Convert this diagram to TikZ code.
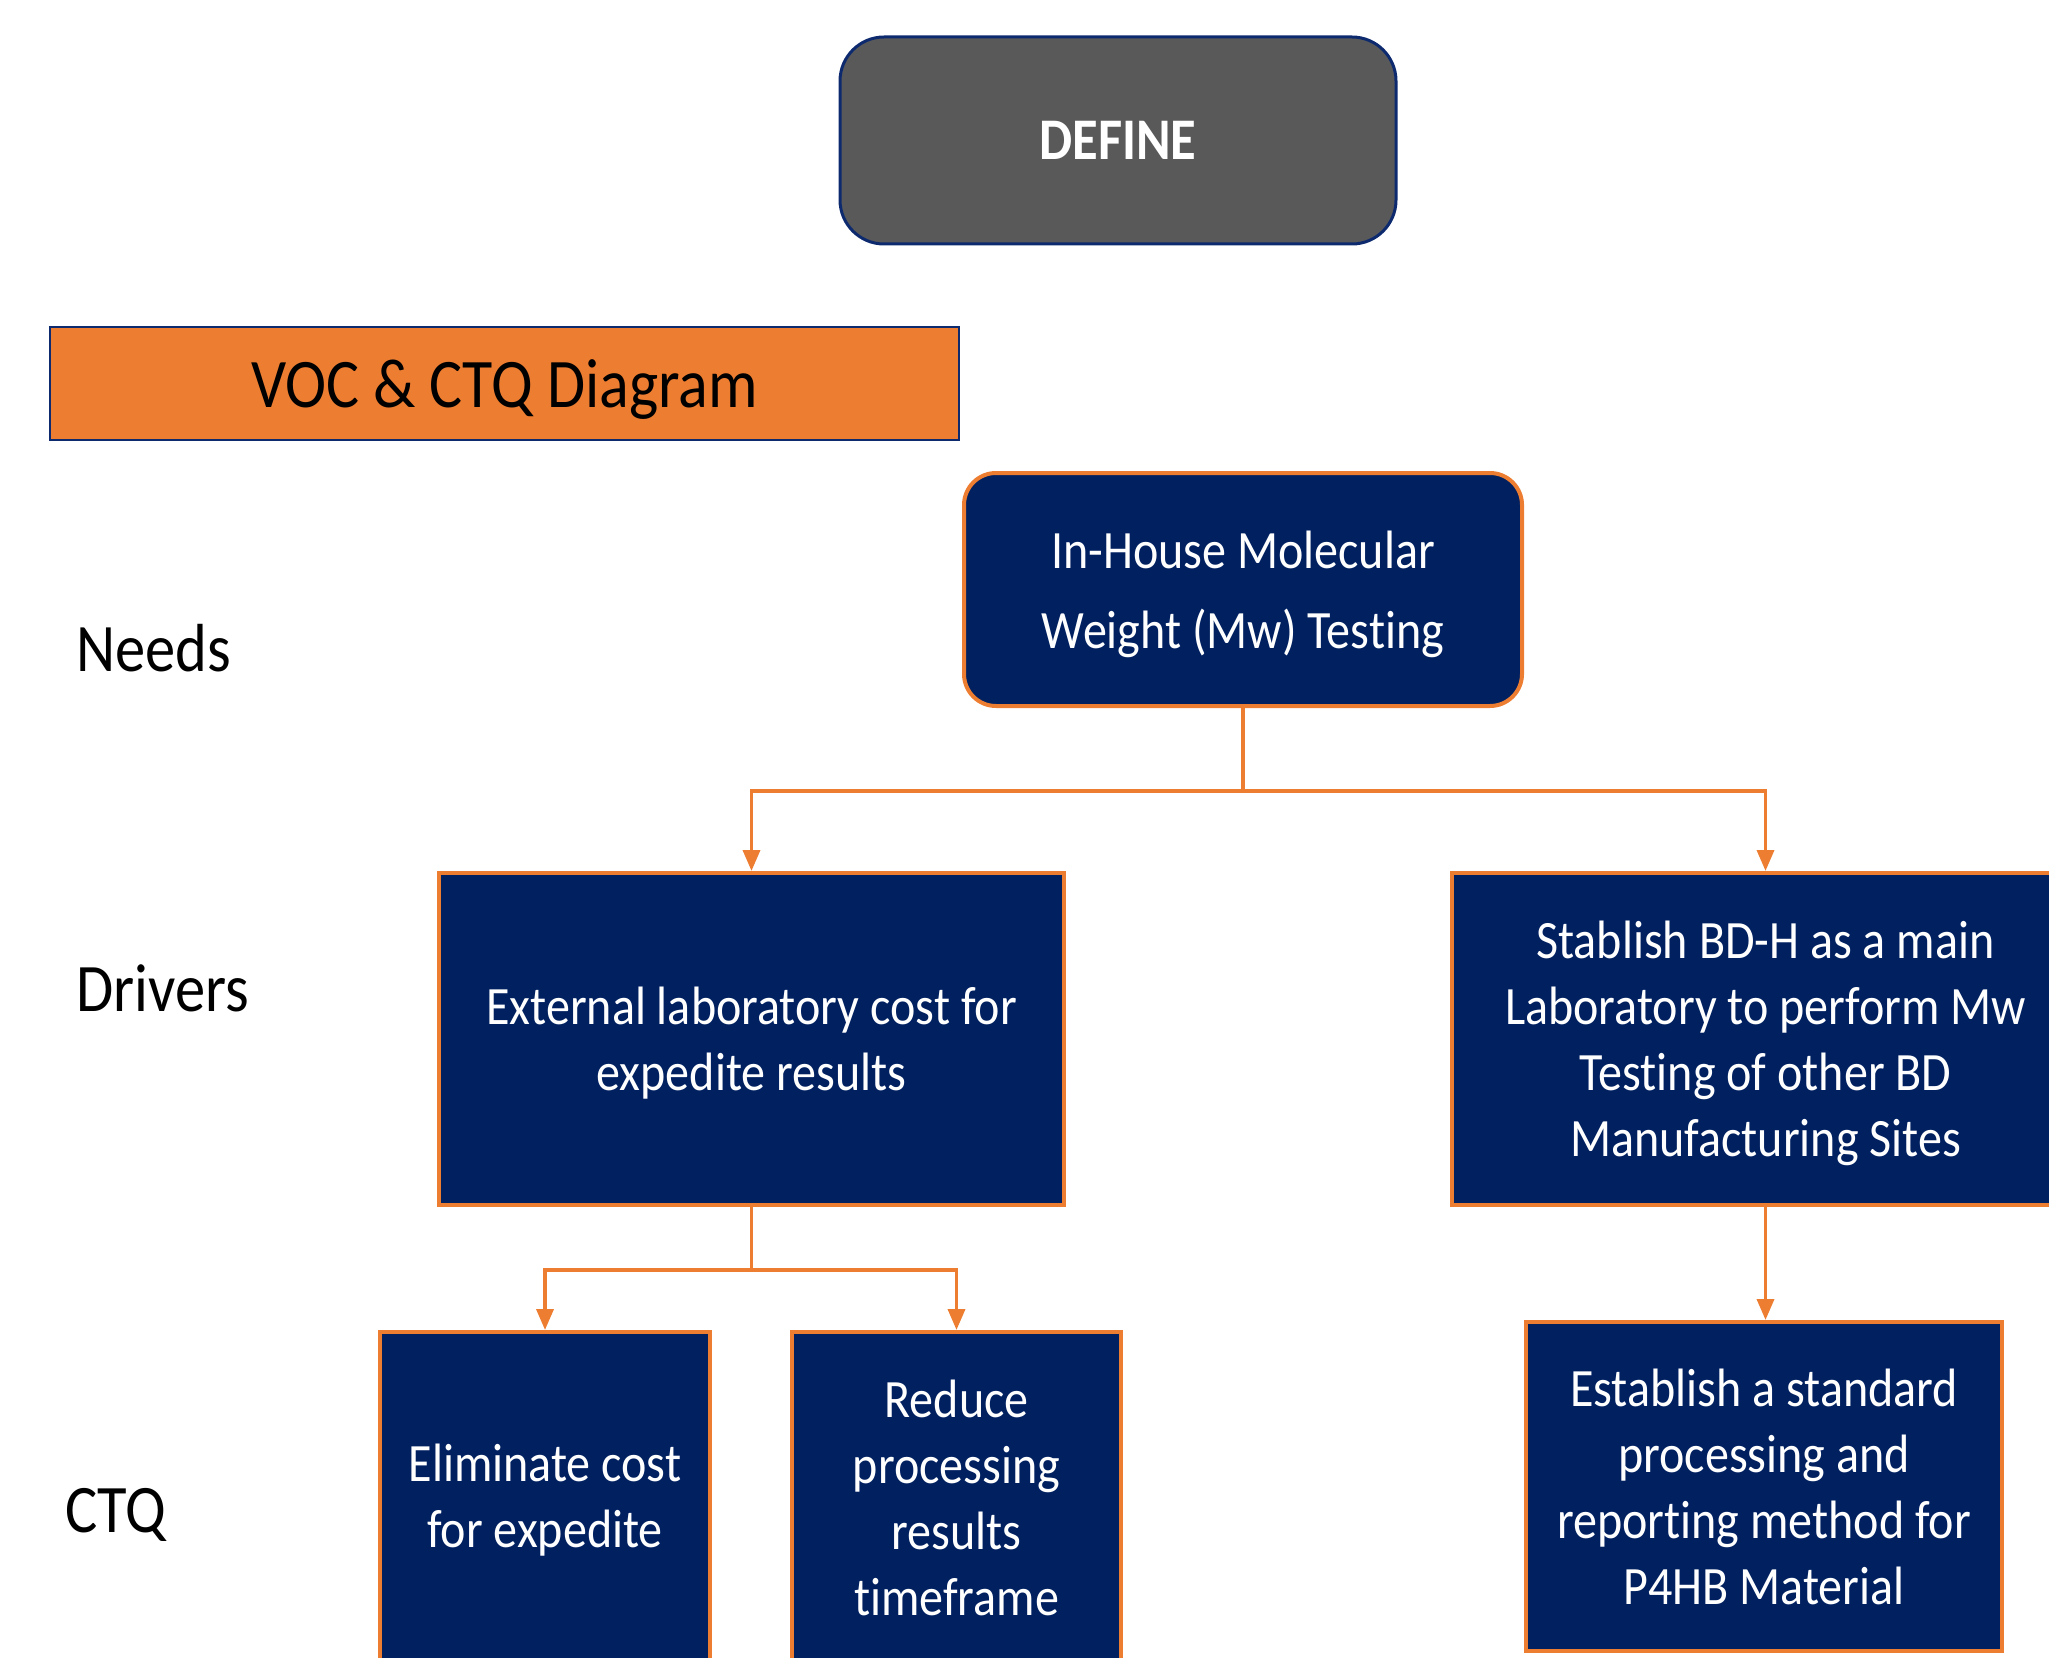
\documentclass[tikz,border=0pt]{standalone}
\usepackage{fontspec}
\setmainfont{Carlito}[FakeStretch=0.89, Ligatures=NoCommon]
\usetikzlibrary{arrows.meta}
\definecolor{navy}{HTML}{002060}
\definecolor{accent}{HTML}{ED7D31}
\definecolor{slate}{HTML}{595959}
\definecolor{rim}{HTML}{0E2A6E}

\begin{document}
\begin{tikzpicture}[x=0.5pt,y=-0.5pt,
  box/.style={draw=accent, line width=2pt, fill=navy, text=white, align=center,
    inner sep=0pt, text depth=0pt, font=\fontsize{27pt}{33pt}\selectfont},
  roundbox/.style={box, rounded corners=16pt},
  conn/.style={draw=accent, line width=1.8pt, -{Triangle[length=10.5pt,width=8.5pt]}},
  rowlabel/.style={anchor=base west, inner sep=0pt, font=\fontsize{34pt}{40pt}\selectfont}]
\useasboundingbox (0,0) rectangle (2049,1658);

% phase banner
\node[draw=rim, line width=1.5pt, fill=slate, rounded corners=22pt, text=white,
  minimum width=278pt, minimum height=103.5pt, inner sep=0pt,
  font=\fontsize{29.5pt}{35pt}\selectfont\bfseries] (define) at (1118,140.5) {DEFINE};

% diagram title
\node[draw=rim, line width=1pt, fill=accent, text=black,
  minimum width=454.5pt, minimum height=56.5pt, inner sep=0pt, text depth=0pt,
  font=\fontsize{34.8pt}{40pt}\selectfont] (title) at (504.5,383.5) {VOC \& CTQ Diagram};

% row labels
\node[rowlabel] (lneeds) at (76,671) {Needs};
\node[rowlabel] (ldrivers) at (76,1011) {Drivers};
\node[rowlabel] (lctq) at (65,1532) {CTQ};

% need
\node[roundbox, minimum width=279pt, minimum height=116.5pt,
  font=\fontsize{27pt}{40pt}\selectfont] (need) at (1243,589.5)
  {In-House Molecular\\Weight (Mw) Testing};

% drivers
\node[box, minimum width=312.5pt, minimum height=166pt] (drvL) at (751.5,1039)
  {External laboratory cost for\\expedite results};
\node[box, minimum width=313.5pt, minimum height=166pt] (drvR) at (1765.5,1039)
  {Stablish BD-H as a main\\Laboratory to perform Mw\\Testing of other BD\\Manufacturing Sites};

% critical to quality
\node[box, minimum width=165pt, minimum height=166pt, text depth=2.5pt] (ctqA) at (545,1498)
  {Eliminate cost\\for expedite};
\node[box, minimum width=164.5pt, minimum height=166pt] (ctqB) at (956.5,1498)
  {Reduce\\processing\\results\\timeframe};
\node[box, minimum width=238pt, minimum height=164.5pt] (ctqC) at (1764,1486.5)
  {Establish a standard\\processing and\\reporting method for\\P4HB Material};

% connectors
\draw[conn] (need.south) -- ++(0,83) -| (drvL.north);
\draw[conn] (need.south) -- ++(0,83) -| (drvR.north);
\draw[conn] (drvL.south) -- ++(0,63) -| (ctqA.north);
\draw[conn] (drvL.south) -- ++(0,63) -| (ctqB.north);
\draw[conn] (drvR.south) -- (drvR.south |- ctqC.north);
\end{tikzpicture}
\end{document}
